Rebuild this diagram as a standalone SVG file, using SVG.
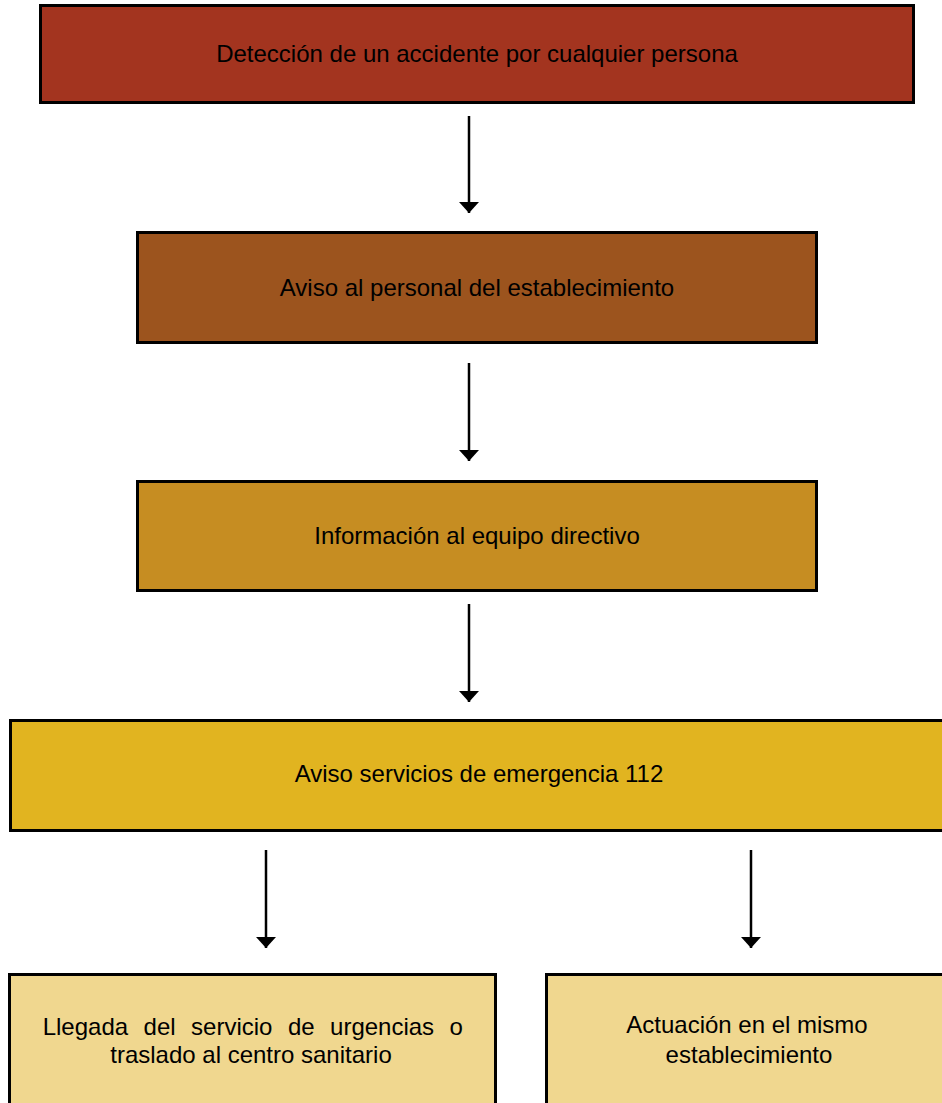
<svg xmlns="http://www.w3.org/2000/svg" width="942" height="1103" viewBox="0 0 942 1103">
<defs>
<marker id="ah" viewBox="0 0 11 20" refX="11" refY="10" markerWidth="11" markerHeight="20" markerUnits="userSpaceOnUse" orient="auto">
<path d="M0,0 L11,10 L0,20 Z" fill="#000"/>
</marker>
<style>
.box{stroke:#000;stroke-width:3}
.t{font-family:"Liberation Sans",Arial,sans-serif;font-size:24px;fill:#000;text-anchor:middle}
.c{stroke:#000;stroke-width:2.5;fill:none;marker-end:url(#ah)}
</style>
</defs>
<rect width="942" height="1103" fill="#fff"/>
<g id="n1"><rect class="box" x="40.5" y="5.5" width="873" height="97" fill="#A3341F"/><text class="t" x="477" y="62">Detección de un accidente por cualquier persona</text></g>
<g id="n2"><rect class="box" x="137.5" y="232.5" width="679" height="110" fill="#9C541E"/><text class="t" x="477" y="296">Aviso al personal del establecimiento</text></g>
<g id="n3"><rect class="box" x="137.5" y="481.5" width="679" height="109" fill="#C68D22"/><text class="t" x="477" y="544">Información al equipo directivo</text></g>
<g id="n4"><rect class="box" x="10.5" y="720.5" width="934" height="110" fill="#E1B420"/><text class="t" x="479" y="782">Aviso servicios de emergencia 112</text></g>
<g id="n5"><rect class="box" x="9.5" y="974.5" width="486" height="140" fill="#F0D78F"/><text class="t" x="42.7" y="1035" style="text-anchor:start" word-spacing="8.8">Llegada del servicio de urgencias o</text><text class="t" x="251" y="1063">traslado al centro sanitario</text></g>
<g id="n6"><rect class="box" x="546.5" y="974.5" width="400" height="140" fill="#F0D78F"/><text class="t" x="747" y="1033">Actuación en el mismo</text><text class="t" x="749" y="1063">establecimiento</text></g>
<g id="connectors">
<line class="c" x1="469" y1="116" x2="469" y2="213"/>
<line class="c" x1="469" y1="363" x2="469" y2="461"/>
<line class="c" x1="469" y1="604" x2="469" y2="702"/>
<line class="c" x1="266" y1="850" x2="266" y2="948"/>
<line class="c" x1="751" y1="850" x2="751" y2="948"/>
</g>
</svg>
